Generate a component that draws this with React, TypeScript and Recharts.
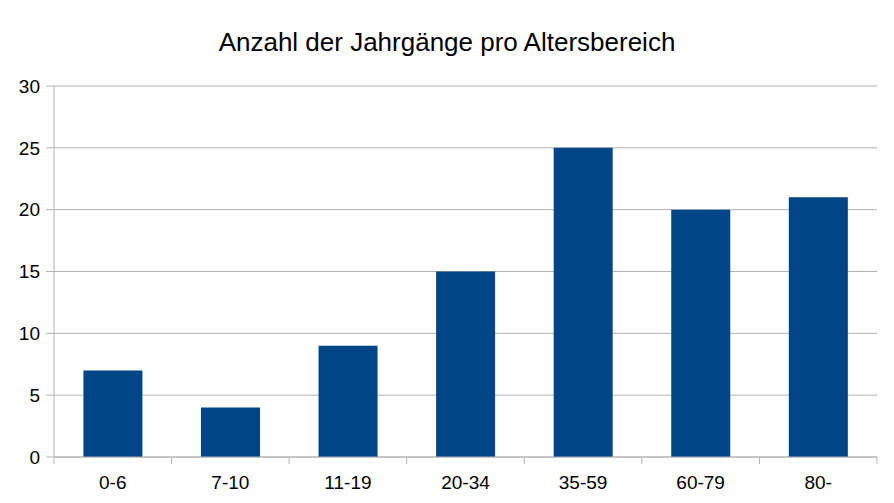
import { BarChart, Bar, XAxis, YAxis, CartesianGrid } from 'recharts';

// Altersbereiche und Anzahl der Jahrgänge
const categories = ['0-6', '7-10', '11-19', '20-34', '35-59', '60-79', '80-'];
const counts = [7, 4, 9, 15, 25, 20, 21];
const yTicks = [0, 5, 10, 15, 20, 25, 30];

const data = categories.map((name, i) => ({ name, count: counts[i] }));

const FONT = '"Liberation Sans", Arial, sans-serif';
const GRID = '#b3b3b3';
const LABEL_GAP = 19;
const EDGE_TICK = 7;

// category label plus tick marks on the category boundaries
const CategoryTick = (props: any) => {
  const { x, y, payload, index } = props;
  const half = payload.offset ?? 0;
  const axisY = y - LABEL_GAP;
  const last = index === categories.length - 1;
  return (
    <g>
      <line x1={x - half} x2={x - half} y1={axisY} y2={axisY + EDGE_TICK} stroke={GRID} />
      {last && <line x1={x + half} x2={x + half} y1={axisY} y2={axisY + EDGE_TICK} stroke={GRID} />}
      <text x={x} y={y} dy="0.71em" textAnchor="middle" fill="#000" fontSize={19}>
        {payload.value}
      </text>
    </g>
  );
};

const App = () => (
  <div style={{ position: 'absolute', left: 0, top: 0, width: 894, height: 503, background: '#fff', fontFamily: FONT }}>
    <div
      style={{
        position: 'absolute',
        left: 0,
        top: 26,
        width: 894,
        textAlign: 'center',
        fontSize: 26,
        color: '#000',
        lineHeight: '32px',
      }}
    >
      Anzahl der Jahrgänge pro Altersbereich
    </div>
    <BarChart
      width={894}
      height={503}
      data={data}
      margin={{ top: 86, right: 17, bottom: 0, left: 0 }}
      barCategoryGap="25%"
      style={{ fontFamily: FONT }}
    >
      <CartesianGrid vertical={false} stroke={GRID} />
      <XAxis
        dataKey="name"
        stroke={GRID}
        tickLine={false}
        tickSize={0}
        tickMargin={LABEL_GAP}
        height={46}
        tick={<CategoryTick />}
        interval={0}
      />
      <YAxis
        domain={[0, 30]}
        ticks={yTicks}
        width={54}
        tickSize={8}
        tickMargin={6}
        stroke={GRID}
        tick={{ fill: '#000', fontSize: 19 }}
        interval={0}
      />
      <YAxis yAxisId="right" orientation="right" width={0} tick={false} tickLine={false} stroke={GRID} />
      <Bar dataKey="count" fill="#004586" isAnimationActive={false} />
    </BarChart>
  </div>
);

export default App;
